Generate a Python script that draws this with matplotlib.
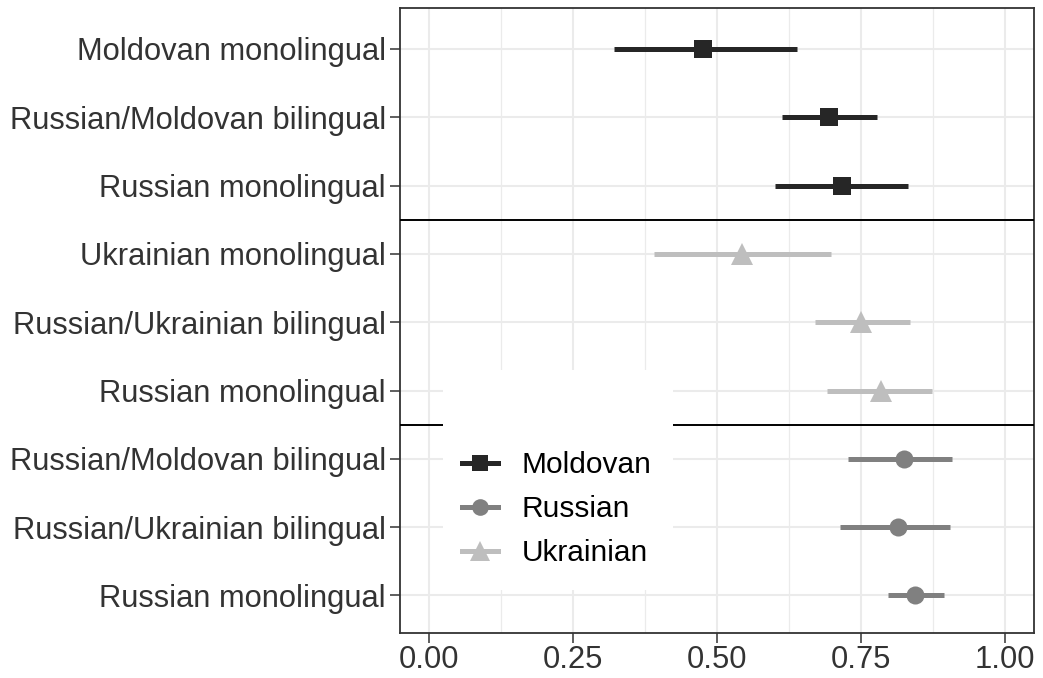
import matplotlib
matplotlib.use("Agg")
import matplotlib.pyplot as plt
from matplotlib.patches import Rectangle
from matplotlib.lines import Line2D
from matplotlib.ticker import MultipleLocator

plt.rcParams['font.family'] = ['Liberation Sans', 'DejaVu Sans']

# rows listed top to bottom
row_labels = ["Moldovan monolingual", "Russian/Moldovan bilingual", "Russian monolingual",
              "Ukrainian monolingual", "Russian/Ukrainian bilingual", "Russian monolingual",
              "Russian/Moldovan bilingual", "Russian/Ukrainian bilingual", "Russian monolingual"]
row_group = ["Moldovan", "Moldovan", "Moldovan",
             "Ukrainian", "Ukrainian", "Ukrainian",
             "Russian", "Russian", "Russian"]
estimate = [0.476, 0.694, 0.717, 0.544, 0.750, 0.785, 0.824, 0.814, 0.843]
ci_low = [0.321, 0.612, 0.600, 0.390, 0.670, 0.691, 0.727, 0.713, 0.797]
ci_high = [0.638, 0.778, 0.831, 0.698, 0.834, 0.873, 0.908, 0.904, 0.894]
x_ticks = [0.00, 0.25, 0.50, 0.75, 1.00]
legend_order = ["Moldovan", "Russian", "Ukrainian"]

colors = {"Moldovan": "#262626", "Russian": "#808080", "Ukrainian": "#bebebe"}
markers = {"Moldovan": "s", "Russian": "o", "Ukrainian": "^"}
msizes = {"Moldovan": 13, "Russian": 13, "Ukrainian": 16}

fig = plt.figure(figsize=(10.43, 6.78), dpi=100)
ax = fig.add_axes([400 / 1043, 1 - 633 / 678, 634 / 1043, 625 / 678])

ypos = list(range(1, len(row_labels) + 1))
for y, g, e, lo, hi in zip(ypos, row_group, estimate, ci_low, ci_high):
    ax.plot([lo, hi], [y, y], color=colors[g], lw=3.6, solid_capstyle='butt', zorder=3)
    ax.plot(e, y, marker=markers[g], color=colors[g], ms=msizes[g], mew=0, zorder=3.5)

# group separators
ax.axhline(3.5, color='black', lw=1.4, zorder=3)
ax.axhline(6.5, color='black', lw=1.4, zorder=3)

ax.set_xlim(-0.05, 1.05)
ax.set_ylim(len(row_labels) + 0.55, 0.4)
ax.set_xticks(x_ticks)
ax.set_xticklabels([f"{t:.2f}" for t in x_ticks])
ax.xaxis.set_minor_locator(MultipleLocator(0.125))
ax.set_yticks(ypos)
ax.set_yticklabels(row_labels)

ax.grid(which='major', color='#ebebeb', lw=1.5, zorder=0)
ax.grid(which='minor', axis='x', color='#ebebeb', lw=0.9, zorder=0)
ax.set_axisbelow(True)
ax.tick_params(which='major', labelsize=22.2, labelcolor='#333333', color='#333333',
               length=7, width=1.1, pad=3)
ax.tick_params(axis='x', pad=2)
ax.tick_params(which='minor', length=0)
for s in ax.spines.values():
    s.set_color('#333333')
    s.set_linewidth(1.3)

# legend panel
ax.add_patch(Rectangle((43 / 634, 43 / 625), 230 / 634, 220 / 625, transform=ax.transAxes,
                       facecolor='white', edgecolor='none', zorder=4))
handles = [Line2D([0], [0], color=colors[g], lw=3.6, marker=markers[g], ms=msizes[g] - 1, mew=0)
           for g in legend_order]
leg = ax.legend(handles, legend_order, loc='center left', bbox_to_anchor=(0.098, 0.198),
                frameon=False, fontsize=21.5, handlelength=1.2, handletextpad=0.8,
                labelspacing=0.53, borderpad=0, borderaxespad=0)
leg.set_zorder(5)

fig.savefig("out.png", dpi=100)
